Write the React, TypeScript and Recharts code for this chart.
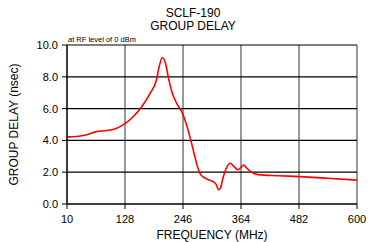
import { CartesianGrid, Line, LineChart, XAxis, YAxis } from "recharts";

const freqs = [
  10, 30, 50, 70, 90, 110, 128, 145, 162, 180, 192, 198, 204, 210, 216, 224, 232, 245, 255, 262,
  270, 276, 282, 290, 300, 310, 314, 318, 322, 328, 335, 342, 350, 358, 364, 369, 376, 385, 399,
  440, 484, 540, 600,
];
const delays = [
  4.22, 4.25, 4.35, 4.55, 4.62, 4.75, 5.05, 5.5, 6.12, 7.0, 7.8, 8.7, 9.2, 8.9, 8.0, 7.0, 6.4, 5.7,
  4.8, 4.0, 3.0, 2.3, 1.85, 1.65, 1.5, 1.35, 1.2, 0.9, 1.0, 1.7, 2.3, 2.56, 2.35, 2.15, 2.3, 2.45,
  2.25, 2.0, 1.85, 1.78, 1.72, 1.62, 1.5,
];
const xTicks = [10, 128, 246, 364, 482, 600];
const yTicks = [0, 2, 4, 6, 8, 10];

const data = freqs.map((f, i) => ({ freq: f, delay: delays[i] }));

const font = "'Liberation Sans', Arial, sans-serif";

export default function App() {
  return (
    <div
      style={{
        position: "absolute",
        left: 0,
        top: 0,
        width: 379,
        height: 242,
        background: "#fff",
        fontFamily: font,
      }}
    >
      <div
        style={{
          position: "absolute",
          left: 93,
          width: 200,
          top: 7,
          textAlign: "center",
          fontSize: 12,
          lineHeight: "13px",
          color: "#000",
        }}
      >
        SCLF-190
        <br />
        GROUP DELAY
      </div>
      <div style={{ position: "absolute", left: 68, top: 35, fontSize: 7.5, color: "#000" }}>
        at RF level of 0 dBm
      </div>
      <LineChart
        width={379}
        height={242}
        data={data}
        margin={{ top: 45, right: 22, bottom: 2, left: 7 }}
      >
        <CartesianGrid horizontal={false} stroke="#555" strokeWidth={1.2} />
        <CartesianGrid vertical={false} stroke="#000" strokeWidth={1.2} />
        <XAxis
          dataKey="freq"
          type="number"
          domain={[10, 600]}
          ticks={xTicks}
          height={36}
          tickSize={5}
          tickMargin={6}
          axisLine={{ stroke: "#000", strokeWidth: 1.2 }}
          tickLine={{ stroke: "#000" }}
          tick={{ fill: "#000", fontSize: 11, fontFamily: font }}
          label={{
            value: "FREQUENCY (MHz)",
            position: "insideBottom",
            offset: 1,
            fill: "#000",
            fontSize: 12,
            fontFamily: font,
          }}
        />
        <YAxis
          type="number"
          domain={[0, 10]}
          ticks={yTicks}
          width={60}
          tickSize={5}
          tickMargin={4}
          tickFormatter={(v: number) => v.toFixed(1)}
          axisLine={{ stroke: "#000", strokeWidth: 1.2 }}
          tickLine={{ stroke: "#000" }}
          tick={{ fill: "#000", fontSize: 11, fontFamily: font }}
          label={{
            value: "GROUP DELAY (nsec)",
            angle: -90,
            position: "insideLeft",
            offset: 7,
            fill: "#000",
            fontSize: 12,
            fontFamily: font,
            style: { textAnchor: "middle" },
          }}
        />
        <Line
          type="monotone"
          dataKey="delay"
          stroke="#ff0000"
          strokeWidth={1.6}
          dot={false}
          isAnimationActive={false}
        />
      </LineChart>
    </div>
  );
}
